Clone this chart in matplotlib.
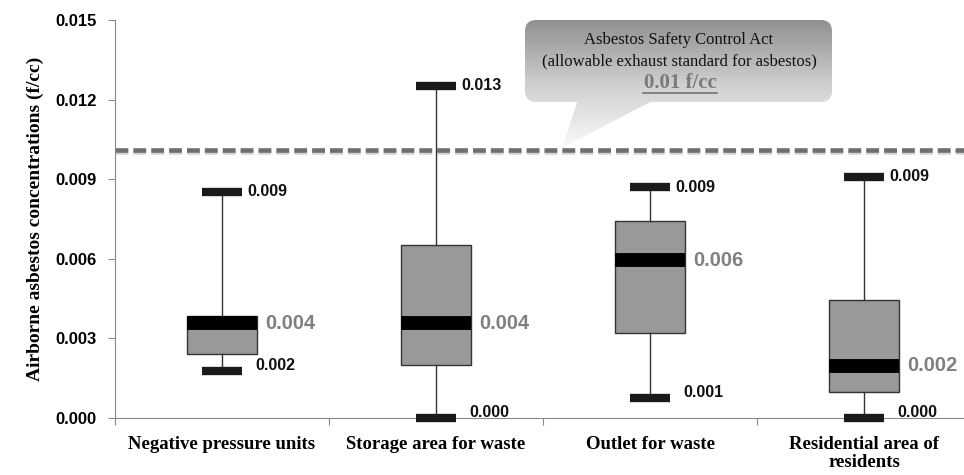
import matplotlib.pyplot as plt
import matplotlib.patheffects as pe
from matplotlib.patches import FancyBboxPatch, Polygon
from matplotlib.colors import LinearSegmentedColormap
import numpy as np

categories = ['Negative pressure units', 'Storage area for waste',
              'Outlet for waste', 'Residential area of\nresidents']
whisker_low = [0.00177, 0.0, 0.00075, 0.0]
q1 = [0.00242, 0.0020, 0.00321, 0.00098]
median = [0.00358, 0.00358, 0.00594, 0.00196]
q3 = [0.00385, 0.00653, 0.00741, 0.00443]
whisker_high = [0.00852, 0.01253, 0.00869, 0.0091]
limit = 0.0101
yticks = [0.0, 0.003, 0.006, 0.009, 0.012, 0.015]

serif = 'Liberation Serif'
sans = 'Liberation Sans'

fig = plt.figure(figsize=(9.64, 4.75), dpi=100)
ax = fig.add_axes([115 / 964, 57 / 475, 856 / 964, 398 / 475])

pos = np.arange(len(categories))
stats = []
for i in range(len(categories)):
    stats.append(dict(med=median[i], q1=q1[i], q3=q3[i],
                      whislo=whisker_low[i], whishi=whisker_high[i], fliers=[]))

arts = ax.bxp(stats, positions=pos, widths=0.33, capwidths=0.19, patch_artist=True,
              showfliers=False,
              boxprops=dict(facecolor='#999999', edgecolor='#333333', linewidth=1),
              medianprops=dict(color='black', linewidth=10, solid_capstyle='butt'),
              whiskerprops=dict(color='#333333', linewidth=1),
              capprops=dict(color='#1a1a1a', linewidth=6, solid_capstyle='butt'))
for key in arts:
    for a in arts[key]:
        a.set_clip_on(False)
for c in arts['caps']:
    c.set_zorder(3)

# value labels
for i in range(len(categories)):
    ax.text(pos[i] + 0.12, whisker_high[i], f'{whisker_high[i]:.3f}', fontsize=11.5,
            fontweight='bold', family=sans, va='center', ha='left', color='#111111')
    ax.text(pos[i] + 0.155, whisker_low[i] + 0.0002, f'{whisker_low[i]:.3f}', fontsize=11.5,
            fontweight='bold', family=sans, va='center', ha='left', color='#111111')
    ax.text(pos[i] + 0.2, median[i], f'{median[i]:.3f}', fontsize=14.5,
            fontweight='bold', family=sans, va='center', ha='left', color='#808080')

# limit line
ax.axhline(limit, color='#6e6e6e', linewidth=3.3, dashes=(2.8, 1.1), zorder=1,
           path_effects=[pe.SimpleLineShadow(offset=(0, -1.5), shadow_color='#aaaaaa', alpha=0.5),
                         pe.Normal()])

ax.set_xlim(-0.5, len(categories) - 0.5)
ax.set_ylim(0, 0.015)
ax.set_yticks(yticks)
ax.set_yticklabels([f'{v:.3f}' for v in yticks], fontsize=12, fontweight='bold', family=sans)
ax.set_xticks(np.arange(len(categories) + 1) - 0.5)
ax.set_xticklabels([])
ax.set_xticks(pos, minor=True)
ax.set_xticklabels(categories, minor=True, fontsize=13.5, fontweight='bold', family=serif,
                   linespacing=1.05)
ax.tick_params(axis='x', which='minor', length=0, pad=13)
ax.tick_params(axis='x', which='major', length=5, color='#888888', direction='out')
ax.tick_params(axis='y', length=5, color='#888888', pad=8)
for s in ['top', 'right']:
    ax.spines[s].set_visible(False)
for s in ['left', 'bottom']:
    ax.spines[s].set_color('#888888')
ax.set_ylabel('Airborne asbestos concentrations (f/cc)', fontsize=14, fontweight='bold',
              family=serif, labelpad=8)

# callout (pixel coordinates overlay)
ov = fig.add_axes([0, 0, 1, 1], zorder=5)
ov.axis('off')
cmap = LinearSegmentedColormap.from_list('g', ['#8e8e8e', '#cfcfcf', '#fbfbfb'])
grad = np.linspace(0, 1, 256).reshape(-1, 1)
box = FancyBboxPatch((525, 20), 307, 82, boxstyle='round,pad=0,rounding_size=11',
                     facecolor='none', edgecolor='none')
tail = Polygon([(578, 100), (654, 100), (562, 148)], closed=True,
               facecolor='none', edgecolor='none')
ov.add_patch(box)
ov.add_patch(tail)
for clip in (box, tail):
    im = ov.imshow(grad, cmap=cmap, extent=(520, 840, 150, 18), origin='upper',
                   aspect='auto', interpolation='bilinear')
    im.set_clip_path(clip)
ov.set_xlim(0, 964)
ov.set_ylim(475, 0)
ov.text(679, 40, 'Asbestos Safety Control Act', fontsize=12, family=serif,
        ha='center', va='center', color='#111111')
ov.text(679, 61, '(allowable exhaust standard for asbestos)', fontsize=12, family=serif,
        ha='center', va='center', color='#111111')
ov.text(680, 83, '0.01 f/cc', fontsize=15, family=serif, fontweight='bold',
        ha='center', va='center', color='#7a7a7a')
ov.plot([643, 717], [93, 93], color='#7a7a7a', linewidth=1.3)

fig.savefig('out.png', dpi=100)
